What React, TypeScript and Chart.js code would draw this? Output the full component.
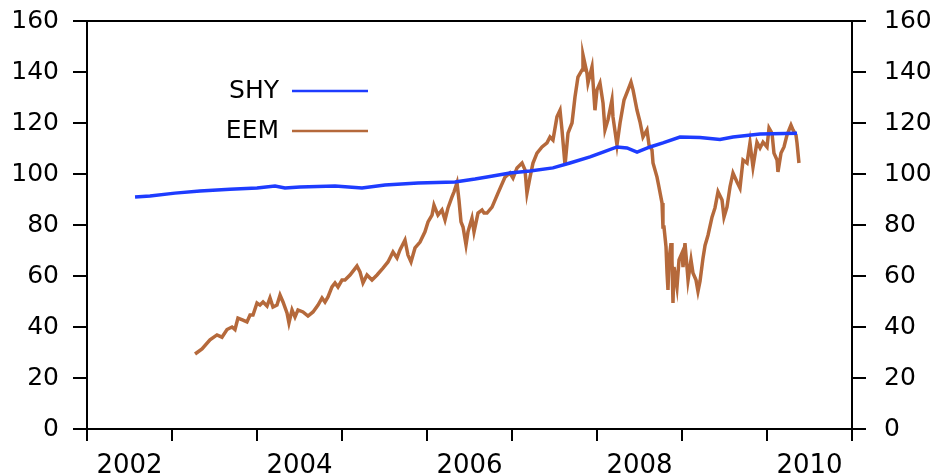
import React, { useEffect, useRef } from "react";
import { Chart, registerables } from "chart.js";

Chart.register(...registerables);

// Decimal-year dates and values
const shyDates = [
  2002.565, 2002.741, 2003.035, 2003.329, 2003.682, 2004.0, 2004.212, 2004.329,
  2004.506, 2004.918, 2005.235, 2005.506, 2005.894, 2006.329, 2006.565, 2006.706,
  2006.976, 2007.212, 2007.482, 2007.682, 2007.918, 2008.071, 2008.235, 2008.353,
  2008.471, 2008.624, 2008.776, 2008.976, 2009.212, 2009.447, 2009.6, 2009.918,
  2010.353,
];
const shyValues = [
  91.0, 91.4, 92.5, 93.3, 94.0, 94.5, 95.3, 94.5,
  94.9, 95.3, 94.5, 95.7, 96.5, 96.9, 98.0, 98.8,
  100.4, 101.2, 102.4, 104.3, 106.7, 108.6, 110.6, 110.2,
  108.6, 110.6, 112.2, 114.5, 114.3, 113.5, 114.5, 115.7,
  116.0,
];

const eemDates = [
  2003.271, 2003.353, 2003.447, 2003.529, 2003.588, 2003.647, 2003.706, 2003.741,
  2003.776, 2003.835, 2003.882, 2003.918, 2003.953, 2004.0, 2004.035, 2004.071,
  2004.118, 2004.153, 2004.188, 2004.235, 2004.271, 2004.306, 2004.353, 2004.376,
  2004.412, 2004.447, 2004.482, 2004.541, 2004.6, 2004.659, 2004.718, 2004.765,
  2004.8, 2004.835, 2004.882, 2004.918, 2004.953, 2005.0, 2005.035, 2005.094,
  2005.176, 2005.212, 2005.247, 2005.294, 2005.353, 2005.412, 2005.482, 2005.541,
  2005.6, 2005.647, 2005.682, 2005.741, 2005.776, 2005.812, 2005.859, 2005.918,
  2005.976, 2006.012, 2006.059, 2006.082, 2006.129, 2006.176, 2006.212, 2006.247,
  2006.294, 2006.318, 2006.353, 2006.376, 2006.4, 2006.424, 2006.459, 2006.482,
  2006.529, 2006.553, 2006.6, 2006.647, 2006.671, 2006.706, 2006.765, 2006.835,
  2006.918, 2006.976, 2007.012, 2007.059, 2007.118, 2007.153, 2007.176, 2007.212,
  2007.247, 2007.294, 2007.353, 2007.412, 2007.447, 2007.482, 2007.529, 2007.565,
  2007.588, 2007.624, 2007.659, 2007.706, 2007.741, 2007.776, 2007.824, 2007.835,
  2007.882, 2007.894, 2007.941, 2007.976, 2008.0, 2008.035, 2008.071, 2008.094,
  2008.129, 2008.176, 2008.188, 2008.235, 2008.271, 2008.318, 2008.365, 2008.4,
  2008.424, 2008.471, 2008.506, 2008.541, 2008.588, 2008.612, 2008.647, 2008.659,
  2008.706, 2008.729, 2008.765, 2008.776, 2008.788, 2008.812, 2008.824, 2008.835,
  2008.847, 2008.871, 2008.882, 2008.894, 2008.906, 2008.941, 2008.965, 2009.0,
  2009.012, 2009.035, 2009.059, 2009.071, 2009.106, 2009.129, 2009.165, 2009.188,
  2009.212, 2009.247, 2009.271, 2009.306, 2009.353, 2009.388, 2009.424, 2009.471,
  2009.494, 2009.529, 2009.565, 2009.6, 2009.647, 2009.682, 2009.718, 2009.765,
  2009.8, 2009.835, 2009.882, 2009.918, 2009.953, 2010.0, 2010.024, 2010.059,
  2010.082, 2010.118, 2010.129, 2010.165, 2010.2, 2010.235, 2010.282, 2010.306,
  2010.341, 2010.353, 2010.376,
];
const eemValues = [
  29.4, 31.4, 35.0, 36.9, 36.0, 39.0, 40.0, 39.0,
  43.5, 42.7, 42.0, 44.7, 44.7, 49.4, 48.6, 49.8,
  48.2, 51.4, 47.8, 48.6, 52.5, 49.8, 45.5, 41.6,
  46.7, 43.9, 46.7, 45.9, 44.3, 45.9, 48.6, 51.4,
  49.8, 51.8, 55.7, 57.3, 55.7, 58.4, 58.4, 60.4,
  63.9, 61.6, 57.3, 60.4, 58.4, 60.4, 63.1, 65.5,
  69.4, 67.1, 70.2, 74.1, 68.2, 65.5, 71.0, 73.3,
  77.3, 81.2, 83.9, 87.8, 83.9, 85.9, 82.0, 86.7,
  91.0, 93.0, 96.5, 89.8, 81.2, 79.2, 72.2, 77.3,
  82.7, 77.3, 84.7, 85.9, 84.7, 84.7, 87.0, 92.5,
  98.8, 100.4, 98.4, 102.4, 104.3, 101.6, 92.5, 98.8,
  104.3, 108.2, 110.6, 112.2, 114.5, 113.3, 122.4, 125.0,
  117.3, 103.5, 116.0, 120.0, 130.2, 138.0, 140.8, 146.7,
  139.6, 135.7, 142.0, 125.0, 133.0, 135.7, 127.8, 117.3,
  121.2, 129.0, 122.4, 111.4, 120.0, 129.0, 133.0, 136.0,
  133.0, 125.0, 120.4, 114.5, 117.3, 111.4, 109.4, 104.3,
  98.8, 94.9, 88.6, 79.2, 79.2, 71.4, 61.2, 54.5,
  66.3, 72.9, 66.3, 49.4, 63.5, 55.7, 66.3, 69.0,
  63.5, 72.9, 63.5, 58.4, 66.3, 61.2, 58.4, 54.0,
  58.0, 67.0, 72.0, 76.0, 83.1, 86.7, 93.0, 89.8,
  83.1, 87.0, 95.0, 100.4, 96.9, 94.5, 105.5, 104.3,
  112.2, 102.7, 112.5, 110.2, 112.5, 110.6, 118.0, 116.0,
  108.2, 105.5, 100.8, 108.2, 110.6, 115.3, 119.2, 117.3,
  115.3, 112.2, 104.3,
];

const yearTicks = [
  2002, 2002.5, 2003, 2003.5, 2004, 2004.5, 2005, 2005.5, 2006, 2006.5,
  2007, 2007.5, 2008, 2008.5, 2009, 2009.5, 2010, 2010.5, 2011,
];

const FONT = '"DejaVu Sans", Verdana, sans-serif';
const SHY_COLOR = "#1e3cff";
const EEM_COLOR = "#b5693b";

const frameAndLegend = {
  id: "frameAndLegend",
  afterDraw(chart: any) {
    const { ctx, chartArea } = chart;
    ctx.save();
    ctx.strokeStyle = "#000";
    ctx.lineWidth = 2;
    ctx.beginPath();
    ctx.moveTo(chartArea.left, chartArea.top);
    ctx.lineTo(chartArea.right, chartArea.top);
    ctx.stroke();

    const items = [
      { label: "SHY", color: SHY_COLOR, y: 91 },
      { label: "EEM", color: EEM_COLOR, y: 131 },
    ];
    ctx.font = "25px " + FONT;
    ctx.textAlign = "right";
    ctx.textBaseline = "middle";
    for (const it of items) {
      ctx.fillStyle = "#000";
      ctx.fillText(it.label, 279, it.y);
      ctx.strokeStyle = it.color;
      ctx.lineWidth = 2.5;
      ctx.beginPath();
      ctx.moveTo(292, it.y);
      ctx.lineTo(368, it.y);
      ctx.stroke();
    }
    ctx.restore();
  },
};

export default function App() {
  const ref = useRef<HTMLCanvasElement | null>(null);

  useEffect(() => {
    document.body.style.margin = "0";
    const canvas = ref.current;
    if (!canvas) return;

    const yAxis = (position: "left" | "right", width: number, pad: number) => ({
      type: "linear" as const,
      position,
      min: 0,
      max: 160,
      afterFit: (s: any) => {
        s.width = width;
        s.paddingTop = 0;
        s.paddingBottom = 0;
      },
      ticks: {
        stepSize: 20,
        color: "#000",
        padding: pad,
        font: { family: FONT, size: 25 },
      },
      grid: {
        drawOnChartArea: false,
        drawTicks: true,
        tickLength: 14,
        color: "#000",
        lineWidth: 2,
      },
      border: { display: true, color: "#000", width: 2 },
    });

    const chart = new Chart(canvas, {
      type: "line",
      data: {
        datasets: [
          {
            label: "SHY",
            data: shyDates.map((d, i) => ({ x: d, y: shyValues[i] })),
            borderColor: SHY_COLOR,
            borderWidth: 3.5,
            pointRadius: 0,
            tension: 0,
            yAxisID: "y",
          },
          {
            label: "EEM",
            data: eemDates.map((d, i) => ({ x: d, y: eemValues[i] })),
            borderColor: EEM_COLOR,
            borderWidth: 3.5,
            pointRadius: 0,
            tension: 0,
            yAxisID: "y",
          },
        ],
      },
      options: {
        responsive: false,
        animation: false,
        layout: { padding: { top: 21, left: 0, right: 0, bottom: 0 } },
        plugins: {
          legend: { display: false },
          tooltip: { enabled: false },
        },
        scales: {
          x: {
            type: "linear",
            position: "bottom",
            min: 2002,
            max: 2011,
            afterFit: (s: any) => {
              s.height = 47;
              s.paddingLeft = 0;
              s.paddingRight = 0;
            },
            afterBuildTicks: (s: any) => {
              s.ticks = yearTicks.map((v) => ({ value: v }));
            },
            ticks: {
              autoSkip: false,
              maxRotation: 0,
              color: "#000",
              padding: 10,
              font: { family: FONT, size: 26 },
              callback: (v: any) => {
                const n = Number(v);
                const f = Math.floor(n);
                if (n - f === 0.5 && f % 2 === 0) return String(f);
                return "";
              },
            },
            grid: {
              drawOnChartArea: false,
              drawTicks: true,
              tickLength: 12,
              lineWidth: 2,
              color: (c: any) =>
                c.tick && Number.isInteger(c.tick.value) ? "#000" : "rgba(0,0,0,0)",
            },
            border: { display: true, color: "#000", width: 2 },
          },
          y: yAxis("left", 87, 14),
          y2: yAxis("right", 83, 18),
        },
      },
      plugins: [frameAndLegend],
    });

    return () => chart.destroy();
  }, []);

  return (
    <canvas
      ref={ref}
      width={935}
      height={476}
      style={{ display: "block", width: 935, height: 476 }}
    />
  );
}
